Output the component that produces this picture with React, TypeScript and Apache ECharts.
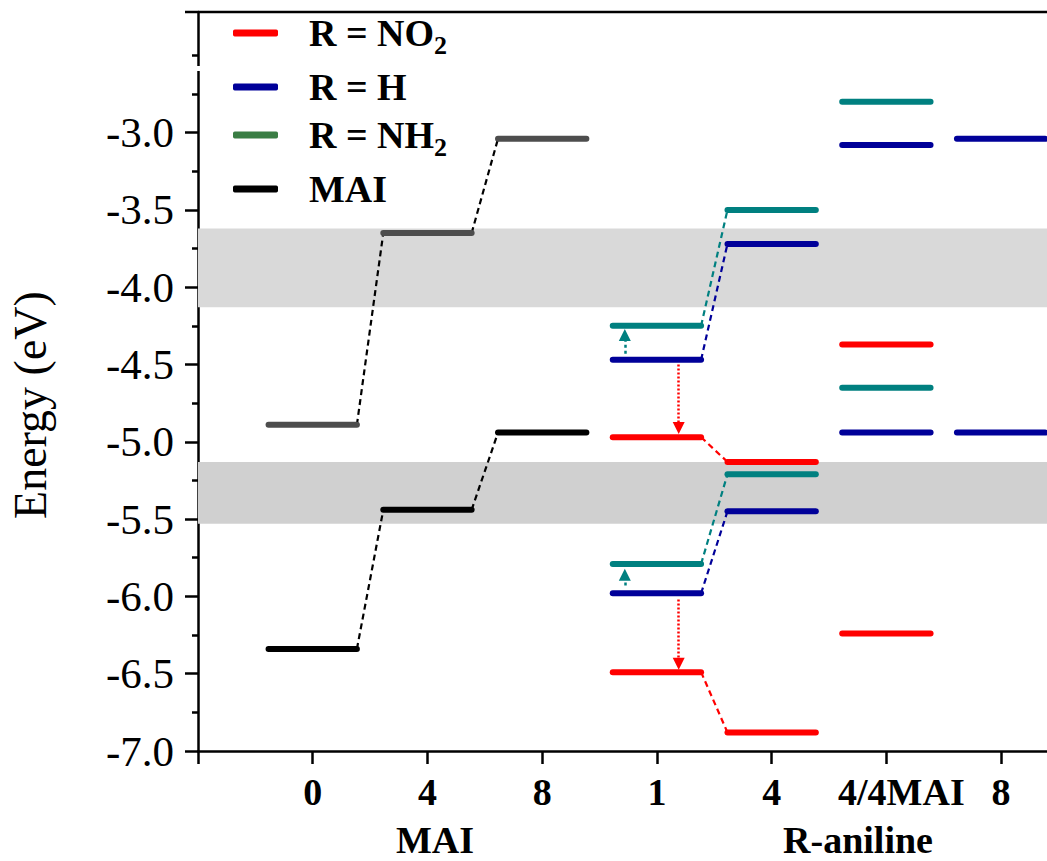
import React, { useEffect, useRef } from 'react';
import * as echarts from 'echarts';

// ---- data ----
const xTickLabels = ['0', '4', '8', '1', '4', '4/4MAI', '8'];
const xTickValues = [0, 1, 2, 3, 4, 5, 6, 7];
const xLabelValues = [1, 2, 3, 4, 5, 6, 7];
const maiX = [1, 2, 3];
const anilineX = [4, 5, 6, 7];

const maiLUMO = [-4.89, -3.65, -3.04];
const maiHOMO = [-6.34, -5.44, -4.94];
const no2LUMO = [-4.97, -5.13, -4.37, null];
const no2HOMO = [-6.49, -6.88, -6.24, null];
const hLUMO = [-4.47, -3.72, -3.08, -3.04];
const hHOMO = [-5.98, -5.45, -4.94, -4.94];
const nh2LUMO = [-4.25, -3.5, -2.8, null];
const nh2HOMO = [-5.79, -5.21, -4.65, null];

const maiLinks = [[0, 1], [1, 2]];
const anilineLinks = [[0, 1]];

const bandUpper = [-3.62, -4.13];
const bandLower = [-5.13, -5.53];

const yTickValues = [-7.0, -6.5, -6.0, -5.5, -5.0, -4.5, -4.0, -3.5, -3.0];
const yMinorValues = [-6.75, -6.25, -5.75, -5.25, -4.75, -4.25, -3.75, -3.25, -2.75, -2.5];

// arrows: [x, from, to]
const nh2Arrows = [[3.72, -4.43, -4.31], [3.72, -5.93, -5.86]];
const no2Arrows = [[4.19, -4.5, -4.91], [4.19, -6.02, -6.435]];

// ---- styles ----
const SERIF = "'Liberation Serif', 'Times New Roman', serif";
const HALF = 0.385;
const RED = '#ff0000';
const BLUE = '#000099';
const TEAL = '#008080';
const GREEN_LEGEND = '#3a7d44';
const GRAY = '#4d4d4d';
const BLACK = '#000000';
const bandColors = ['#d9d9d9', '#d0d0d0'];

function levelsData(xs: number[], vals: (number | null)[]) {
  const out: number[][] = [];
  xs.forEach((x, i) => {
    const v = vals[i];
    if (v !== null && v !== undefined) out.push([x, v]);
  });
  return out;
}

function linksData(xs: number[], vals: (number | null)[], links: number[][]) {
  return links
    .filter(([a, b]) => vals[a] != null && vals[b] != null)
    .map(([a, b]) => ({ coords: [[xs[a] + HALF, vals[a]], [xs[b] - HALF, vals[b]]] }));
}

function levelSeries(name: string, color: string, data: number[][]) {
  return {
    type: 'custom',
    name,
    z: 3,
    silent: true,
    itemStyle: { color },
    encode: { x: 0, y: 1 },
    data,
    renderItem: (params: any, api: any) => {
      const x = api.value(0);
      const v = api.value(1);
      const p1 = api.coord([x - HALF, v]);
      const p2 = api.coord([x + HALF, v]);
      return {
        type: 'line',
        shape: { x1: p1[0], y1: p1[1], x2: p2[0], y2: p2[1] },
        style: { stroke: color, lineWidth: 6, lineCap: 'round' },
      };
    },
  };
}

function linkSeries(name: string, color: string, data: any[]) {
  return {
    type: 'lines',
    name,
    coordinateSystem: 'cartesian2d',
    z: 2,
    silent: true,
    symbol: 'none',
    lineStyle: { color, width: 2.2, type: [6, 4], opacity: 1 },
    data,
  };
}

function arrowSeries(name: string, color: string, dash: number[], arrows: number[][]) {
  return {
    type: 'lines',
    name,
    coordinateSystem: 'cartesian2d',
    z: 4,
    silent: true,
    symbol: ['none', 'triangle'],
    symbolSize: 12,
    lineStyle: { color, width: 2.5, type: dash, opacity: 1 },
    itemStyle: { color },
    data: arrows.map(([x, a, b]) => ({ coords: [[x, a], [x, b]] })),
  };
}

export default function App() {
  const ref = useRef<HTMLDivElement>(null);

  useEffect(() => {
    document.body.style.margin = '0';
    if (!ref.current) return;
    const chart = echarts.init(ref.current, undefined, { renderer: 'svg' });

    const option: any = {
      animation: false,
      backgroundColor: '#ffffff',
      grid: { left: 198, right: 0, top: 12, bottom: 110, containLabel: false },
      legend: {
        left: 228,
        top: 9,
        orient: 'vertical',
        itemWidth: 45,
        itemHeight: 7,
        itemGap: 10,
        icon: 'roundRect',
        selectedMode: false,
        data: [
          { name: 'NO2', itemStyle: { color: RED } },
          { name: 'H', itemStyle: { color: BLUE } },
          { name: 'NH2', itemStyle: { color: GREEN_LEGEND } },
          { name: 'MAI', itemStyle: { color: BLACK } },
        ],
        formatter: (n: string) =>
          ({
            NO2: '{a|R = NO}{s|2}',
            H: '{a|R = H}',
            NH2: '{a|R = NH}{s|2}',
            MAI: '{a|MAI}',
          } as any)[n],
        textStyle: {
          padding: [0, 0, 0, 26],
          rich: {
            a: { fontFamily: SERIF, fontWeight: 'bold', fontSize: 38, color: '#000', lineHeight: 50 },
            s: { fontFamily: SERIF, fontWeight: 'bold', fontSize: 26, color: '#000', verticalAlign: 'bottom' },
          },
        },
      },
      xAxis: {
        type: 'value',
        min: 0,
        max: 7.4,
        splitLine: { show: false },
        axisLine: { show: true, onZero: false, lineStyle: { color: '#000', width: 2.5 } },
        axisTick: { show: true, customValues: xTickValues, length: 13, lineStyle: { color: '#000', width: 2.5 } },
        axisLabel: {
          customValues: xLabelValues,
          margin: 22,
          formatter: (v: number) => {
            const s = xTickLabels[Math.round(v) - 1];
            return s.length > 2 ? '{w|' + s + '}' : s;
          },
          color: '#000',
          fontFamily: SERIF,
          fontWeight: 'bold',
          fontSize: 38,
          rich: {
            w: { fontFamily: SERIF, fontWeight: 'bold', fontSize: 38, color: '#000', padding: [0, 0, 0, 30] },
          },
        },
      },
      yAxis: [
        {
          type: 'value',
          min: -7,
          max: -2.22,
          position: 'left',
          splitLine: { show: false },
          axisLine: { show: true, onZero: false, lineStyle: { color: '#000', width: 2.5 } },
          axisTick: { show: true, customValues: yTickValues, length: 13, lineStyle: { color: '#000', width: 2.5 } },
          axisLabel: {
            customValues: yTickValues,
            margin: 24,
            formatter: (v: number) => v.toFixed(1),
            color: '#000',
            fontFamily: SERIF,
            fontSize: 43,
          },
        },
        {
          type: 'value',
          min: -7,
          max: -2.22,
          position: 'left',
          splitLine: { show: false },
          axisLine: { show: false },
          axisTick: { show: true, customValues: yMinorValues, length: 6, lineStyle: { color: '#000', width: 2.5 } },
          axisLabel: { show: false },
        },
      ],
      graphic: [
        { type: 'line', z: 100, shape: { x1: 185, y1: 12, x2: 1047, y2: 12 }, style: { stroke: '#000', lineWidth: 2.5 } },
        { type: 'rect', z: 100, shape: { x: 192, y: 66, width: 12, height: 5 }, style: { fill: '#fff' } },
        {
          type: 'text', z: 100, x: 435, y: 840,
          style: { text: 'MAI', fill: '#000', font: `bold 38px ${SERIF}`, align: 'center', verticalAlign: 'middle' },
        },
        {
          type: 'text', z: 100, x: 858, y: 840,
          style: { text: 'R-aniline', fill: '#000', font: `bold 38px ${SERIF}`, align: 'center', verticalAlign: 'middle' },
        },
        {
          type: 'text', z: 100, x: 30, y: 405, rotation: Math.PI / 2,
          style: { text: 'Energy (eV)', fill: '#000', font: `46px ${SERIF}`, align: 'center', verticalAlign: 'middle' },
        },
      ],
      series: [
        {
          type: 'custom',
          name: 'bands',
          z: 1,
          silent: true,
          encode: { x: 0, y: [1, 2] },
          data: [
            [0, bandUpper[0], bandUpper[1], 0],
            [0, bandLower[0], bandLower[1], 1],
          ],
          renderItem: (params: any, api: any) => {
            const cs = params.coordSys;
            const y1 = api.coord([0, api.value(1)])[1];
            const y2 = api.coord([0, api.value(2)])[1];
            return {
              type: 'rect',
              shape: { x: cs.x, y: Math.min(y1, y2), width: cs.width, height: Math.abs(y2 - y1) },
              style: { fill: bandColors[api.value(3)] },
            };
          },
        },
        levelSeries('NO2', RED, [...levelsData(anilineX, no2LUMO), ...levelsData(anilineX, no2HOMO)]),
        levelSeries('H', BLUE, [...levelsData(anilineX, hLUMO), ...levelsData(anilineX, hHOMO)]),
        levelSeries('NH2', TEAL, [...levelsData(anilineX, nh2LUMO), ...levelsData(anilineX, nh2HOMO)]),
        levelSeries('MAI', BLACK, levelsData(maiX, maiHOMO)),
        levelSeries('MAI LUMO', GRAY, levelsData(maiX, maiLUMO)),
        linkSeries('MAI links', BLACK, [...linksData(maiX, maiLUMO, maiLinks), ...linksData(maiX, maiHOMO, maiLinks)]),
        linkSeries('NO2 links', RED, [...linksData(anilineX, no2LUMO, anilineLinks), ...linksData(anilineX, no2HOMO, anilineLinks)]),
        linkSeries('H links', BLUE, [...linksData(anilineX, hLUMO, anilineLinks), ...linksData(anilineX, hHOMO, anilineLinks)]),
        linkSeries('NH2 links', TEAL, [...linksData(anilineX, nh2LUMO, anilineLinks), ...linksData(anilineX, nh2HOMO, anilineLinks)]),
        arrowSeries('NH2 arrows', TEAL, [3, 3], nh2Arrows),
        arrowSeries('NO2 arrows', RED, [2, 2], no2Arrows),
      ],
    };

    chart.setOption(option);
    return () => chart.dispose();
  }, []);

  return <div ref={ref} style={{ width: 1047, height: 861 }} />;
}
